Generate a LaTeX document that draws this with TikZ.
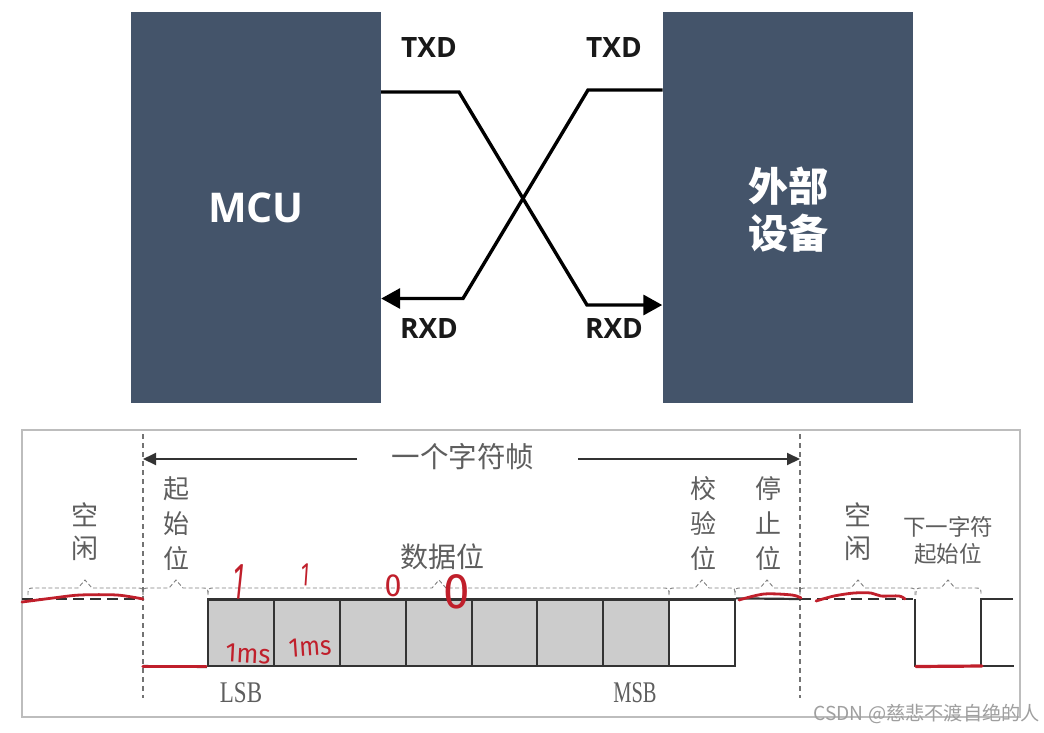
\documentclass[tikz,border=0pt]{standalone}
\usepackage{fontspec}
\setmainfont{Open Sans}
\newfontfamily\cjk{Noto Sans CJK SC}
\newfontfamily\lserif{Liberation Serif}
\newfontfamily\hand{Fira Sans}
\usetikzlibrary{arrows.meta}
\definecolor{slate}{HTML}{44546A}
\definecolor{pen}{HTML}{C01F2B}
\definecolor{txtgray}{HTML}{5E5E5E}
\definecolor{frameg}{HTML}{BDBDBD}
\definecolor{wave}{HTML}{333333}
\newcommand{\fs}[2]{\fontsize{#1}{#2}\selectfont}
\newcommand{\brc}[3]{\draw[bracepath] (#1,595) .. controls (#1,588) .. ({#1+7},588) -- ({#3-7},588) -- (#3,580) -- ({#3+7},588) -- ({#2-7},588) .. controls (#2,588) .. (#2,595);}
\tikzset{
  block/.style={fill=slate,draw=none,inner sep=0,minimum width=250,minimum height=391,text=white},
  wire/.style={line width=3.4pt,black,line join=miter},
  sig/.style={font=\fs{28}{28}\bfseries,text=black!90,inner sep=0},
  bigarrow/.style={-{Triangle[length=19pt,width=20pt]}},
  cjklabel/.style={font=\cjk\fs{26}{35},text=txtgray,align=center,inner sep=0},
  serifl/.style={font=\lserif\fs{25}{25},text=txtgray,inner sep=0},
  bitcell/.style={draw=wave,line width=2.2pt,fill=#1,minimum width=66,minimum height=66.5,inner sep=0},
  sigline/.style={draw=wave,line width=2.2pt},
  guide/.style={draw=black!55,line width=1.2pt,dash pattern=on 5pt off 4pt},
  bracepath/.style={draw=black!50,line width=.9pt,dash pattern=on 4pt off 2.5pt},
  pstroke/.style={draw=pen,line width=2.8pt,line cap=round,line join=round},
  handw/.style={font=\hand,text=pen,inner sep=0},
  spanline/.style={draw=wave,line width=2pt},
}
\begin{document}
\begin{tikzpicture}[x=1pt,y=-1pt]
\useasboundingbox (0,0) rectangle (1044,732);
\fill[white] (0,0) rectangle (1044,732);
% top blocks
\node[block] (mcu) at (256,207.5) {\fs{41}{41}\bfseries MCU};
\node[block] (dev) at (787.5,207.5) {};
\node[font=\cjk\fs{40}{47}\bfseries,text=white,inner sep=0,align=center] (devt) at (788,209.5) {外部\\设备};
% crossing wires
\coordinate (a1) at (381,92); \coordinate (a2) at (459,92); \coordinate (a3) at (587,305);
\coordinate (b1) at (662.5,90); \coordinate (b2) at (588,90); \coordinate (b3) at (463,298.5);
\draw[wire,bigarrow] (a1) -- (a2) -- (a3) -- (dev.west |- a3);
\draw[wire,bigarrow] (b1) -- (b2) -- (b3) -- (mcu.east |- b3);
\node[sig] (t1) at (429,48) {TXD};
\node[sig] (t2) at (614,48) {TXD};
\node[sig] (r1) at (429,328) {RXD};
\node[sig] (r2) at (614,328) {RXD};
% frame
\node[draw=frameg,line width=1.5pt,minimum width=998,minimum height=287,inner sep=0] (frame) at (521,573.5) {};
% guides
\coordinate (g1) at (143,434); \coordinate (g2) at (143,698);
\coordinate (g3) at (800,434); \coordinate (g4) at (800,698);
\draw[guide] (g1) -- (g2);
\draw[guide] (g3) -- (g4);
% span arrow
\node[font=\cjk\fs{28.5}{28},text=txtgray,inner sep=0] (span) at (463,457) {一个字符帧};
\coordinate (s1) at (357,459); \coordinate (s2) at (578,459);
\coordinate (ga) at (143,459); \coordinate (gb) at (800,459);
\draw[spanline,-{Triangle[length=13pt,width=12pt]}] (s1) -- (ga);
\draw[spanline,-{Triangle[length=13pt,width=12pt]}] (s2) -- (gb);
% cells
\foreach \n/\cx in {1/241,2/307,3/373,4/439,5/505,6/570,7/636}{
  \node[bitcell=black!20] (c\n) at (\cx,632.7) {};
}
\node[bitcell=white] (c8) at (702,632.7) {};
% signal
\draw[guide,draw=wave,line width=2pt,dash pattern=on 11pt off 6pt] (22,599) -- (143,599);
\draw[sigline] (143,666) -- (c1.south west);
\draw[sigline] (c8.north east) -- (800,599);
\draw[guide,draw=wave,line width=2pt,dash pattern=on 11pt off 6pt] (800,599) -- (915,599);
\draw[sigline] (915,599) -- (915,666) -- (1014,666);
\draw[sigline] (1013,599) -- (981,599) -- (981,666);
% braces
\brc{28}{143}{85}
\brc{143}{208}{176}
\brc{208}{669}{439}
\brc{669}{735}{702}
\brc{735}{800}{767}
\brc{800}{915}{858}
\brc{916}{981}{948}
% labels
\node[cjklabel,font=\cjk\fs{27}{33}] (k1) at (85,532) {空\\闲};
\node[cjklabel] (k2) at (176,524) {起\\始\\位};
\node[cjklabel,font=\cjk\fs{28}{28}] (k3) at (442,557) {数据位};
\node[cjklabel] (k4) at (703,524) {校\\验\\位};
\node[cjklabel] (k5) at (768,524) {停\\止\\位};
\node[cjklabel,font=\cjk\fs{27}{33}] (k6) at (858,532) {空\\闲};
\node[cjklabel,font=\cjk\fs{22.5}{27.5}] (k7) at (948,540.5) {下一字符\\起始位};
\node[serifl,yscale=1.2,xscale=.92] (lsb) at (241,693) {LSB};
\node[serifl,yscale=1.2,xscale=.82] (msb) at (635,693) {MSB};
% red pen
\draw[pstroke] plot[smooth] coordinates {(22,602) (53,598) (80,595) (117,595) (143,599)};
\draw[pstroke,line width=3.2pt] (143,666.5) -- (206,666.5);
\draw[pstroke] plot[smooth] coordinates {(739,600) (764,594) (792,595) (801,598)};
\draw[pstroke] plot[smooth] coordinates {(816,601) (834,596) (854,593) (871,593) (881,596) (899,596) (905,599)};
\draw[pstroke,line width=3.2pt] (916,666.5) -- (982,666);
\node[handw,font=\hand\fs{52}{52},rotate=-6,xscale=.5] (h1) at (239,582) {1};
\node[handw,font=\hand\fs{33}{33},rotate=-4,xscale=.6] (h2) at (306,575) {1};
\node[handw,font=\hand\fs{32}{32},xscale=.95] (h3) at (393,586) {0};
\node[handw,font=\hand\fs{50}{50},xscale=.95] (h4) at (457,592) {0};
\node[handw,font=\hand\fs{27}{27},rotate=-3,xscale=.95] (h5) at (248,654) {1ms};
\node[handw,font=\hand\fs{27}{27},rotate=4,xscale=.9] (h6) at (310,647) {1ms};
% watermark
\node[font=\cjk\fs{19.2}{19},text=gray!75,inner sep=0,anchor=east] (wm) at (1040,714) {CSDN @慈悲不渡自绝的人};
\end{tikzpicture}
\end{document}
